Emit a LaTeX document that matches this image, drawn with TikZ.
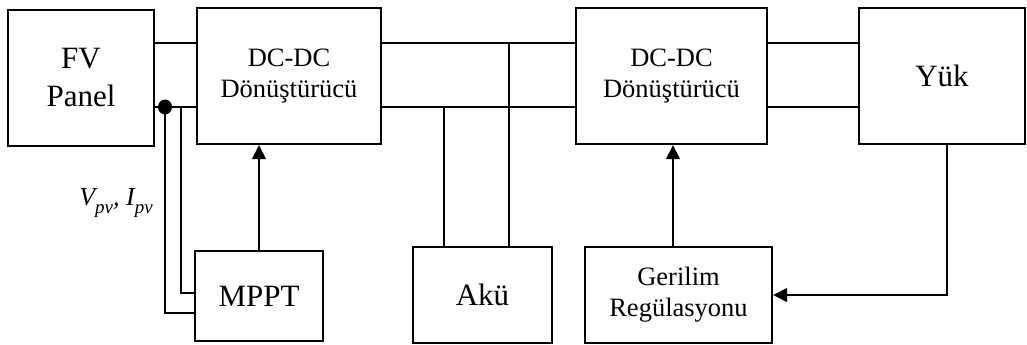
\documentclass[tikz,border=0pt]{standalone}
\usepackage{fontspec}
\setmainfont{Liberation Serif}
\usetikzlibrary{arrows.meta,calc}
\newcommand{\lowsub}[1]{\raisebox{-0.28em}{\fontsize{19}{22}\selectfont #1}}
\begin{document}
\begin{tikzpicture}[x=1pt,y=-1pt,
  blk/.style={draw,line width=2.4pt,inner sep=0pt,align=center},
  bigtxt/.style={font=\fontsize{31}{38}\selectfont},
  smalltxt/.style={font=\fontsize{26.5}{31}\selectfont},
  wire/.style={line width=1.5pt},
  sig/.style={line width=1.6pt,-{Triangle[length=14pt,width=14pt]}}]
\useasboundingbox (0,0) rectangle (1027,345);

% blocks of the upper power path
\node[blk,bigtxt,minimum width=146pt,minimum height=136pt] (pv) at (81,78) {FV\\Panel};
\node[blk,smalltxt,minimum width=184pt,minimum height=136pt] (dc1) at (289,76) {DC-DC\\Dönüştürücü};
\node[blk,smalltxt,minimum width=191pt,minimum height=136pt] (dc2) at (671.5,76) {DC-DC\\Dönüştürücü};
\node[blk,bigtxt,minimum width=166pt,minimum height=136pt] (load) at (942,76) {Yük};

% lower blocks
\node[blk,bigtxt,minimum width=128pt,minimum height=90pt] (mppt) at (259,296) {MPPT};
\node[blk,bigtxt,minimum width=139pt,minimum height=96pt] (bat) at (482.5,295) {Akü};
\node[blk,smalltxt,minimum width=187pt,minimum height=96pt] (reg) at (678.5,295) {Gerilim\\Regülasyonu};

% two-wire DC links
\foreach \a/\b in {pv/dc1,dc1/dc2,dc2/load}{
  \draw[wire] (\a.east |- 0,43) -- (\b.west |- 0,43);
  \draw[wire] (\a.east |- 0,107) -- (\b.west |- 0,107);
}

% measurement taps to the MPPT
\coordinate (tap) at (165,107);
\fill (tap) circle[x radius=7pt,y radius=7.5pt];
\draw[wire] (tap) -- (tap |- 0,313) -- (mppt.west |- 0,313);
\draw[wire] (181,107) -- (181,293) -- (mppt.west |- 0,293);
\node[font=\fontsize{26}{30}\selectfont\itshape,inner sep=0pt] (meas) at (116,203)
  {V\lowsub{pv}, I\lowsub{pv}};

% duty-cycle command to the first converter
\draw[sig] (mppt.north) -- (mppt.north |- dc1.south);

% battery on the DC bus
\draw[wire] (444,107) -- (444,0 |- bat.north);
\draw[wire] (509,43) -- (509,0 |- bat.north);

% voltage regulation loop
\draw[sig] (reg.north -| 673,0) -- (673,0 |- dc2.south);
\draw[sig] (947,0 |- load.south) -- (947,295) -- (reg.east);
\end{tikzpicture}
\end{document}
